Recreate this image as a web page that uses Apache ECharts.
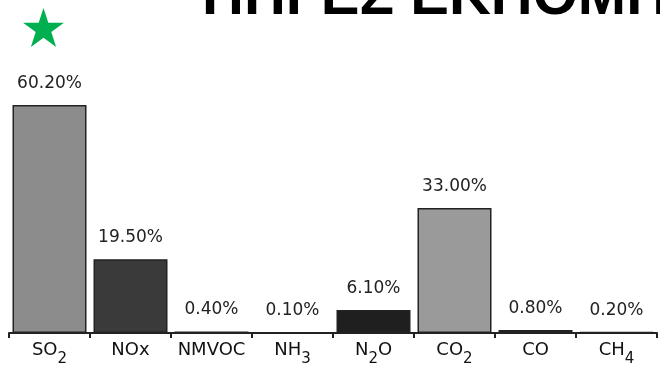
<!DOCTYPE html>
<html>
    <head>
        <meta charset="utf-8">
        <title>ΠΗΓΕΣ ΕΚΠΟΜΠΗΣ</title>
        <script src="https://cdn.jsdelivr.net/npm/echarts@6/dist/echarts.min.js"></script>
        <style>
            html, body { margin: 0; padding: 0; background: #fff; }
        </style>
    </head>
    <body>
        <div id="emissions" style="width: 660px;height: 365px;"></div>
        <script>
            var myChart = echarts.init(document.getElementById("emissions"));

            var pollutants = ['SO2', 'NOx', 'NMVOC', 'NH3', 'N2O', 'CO2', 'CO', 'CH4'];
            var shares = [60.2, 19.5, 0.4, 0.1, 6.1, 33.0, 0.8, 0.2];
            var barColors = ['#8c8c8c', '#3a3a3a', '#777777', '#777777', '#1f1f1f', '#9a9a9a', '#111111', '#777777'];

            // star decoration, top left
            var starPts = [];
            for (var i = 0; i < 10; i++) {
                var r = i % 2 === 0 ? 21.5 : 8.2;
                var a = -Math.PI / 2 + i * Math.PI / 5;
                starPts.push([43.5 + r * Math.cos(a), 29.5 + r * Math.sin(a)]);
            }

            // digits in the formulas become subscripts
            function formula(v) {
                return '{n|' + v.replace(/\d/g, function (d) { return '}{s|' + d + '}{n|'; }) + '}';
            }

            option = {
                animation: false,
                graphic: [{
                    type: 'polygon',
                    shape: { points: starPts },
                    style: { fill: '#00b050' }
                }, {
                    type: 'text',
                    left: 202,
                    top: -31,
                    style: {
                        text: 'ΠΗΓΕΣ ΕΚΠΟΜΠΗΣ',
                        font: 'bold 58px "Liberation Sans", Arial, sans-serif',
                        fill: '#000'
                    }
                }],
                grid: {
                    left: 9,
                    right: 3,
                    top: 30,
                    bottom: 32,
                    outerBoundsMode: 'none'
                },
                xAxis: {
                    type: 'category',
                    data: pollutants,
                    axisLine: { lineStyle: { color: '#222', width: 2 } },
                    axisTick: { show: true, interval: 0, length: 5, lineStyle: { color: '#222', width: 2 } },
                    axisLabel: {
                        interval: 0,
                        margin: 8,
                        formatter: formula,
                        rich: {
                            n: { fontFamily: 'DejaVu Sans', fontSize: 18, color: '#111', padding: [0, 0, 9, 0] },
                            s: { fontFamily: 'DejaVu Sans', fontSize: 15, color: '#111', padding: [9, 0, 0, 0] }
                        }
                    }
                },
                yAxis: {
                    type: 'value',
                    min: 0,
                    max: 80,
                    show: false
                },
                series: [{
                    type: 'bar',
                    data: shares,
                    barWidth: 74,
                    itemStyle: {
                        color: function (p) { return barColors[p.dataIndex]; },
                        borderColor: '#222',
                        borderWidth: 1.5
                    },
                    label: {
                        show: true,
                        position: 'top',
                        distance: 13,
                        fontFamily: 'DejaVu Sans',
                        fontSize: 17,
                        color: '#222',
                        formatter: function (p) { return p.value.toFixed(2) + '%'; }
                    }
                }]
            };

            myChart.setOption(option);
        </script>
    </body>
</html>
